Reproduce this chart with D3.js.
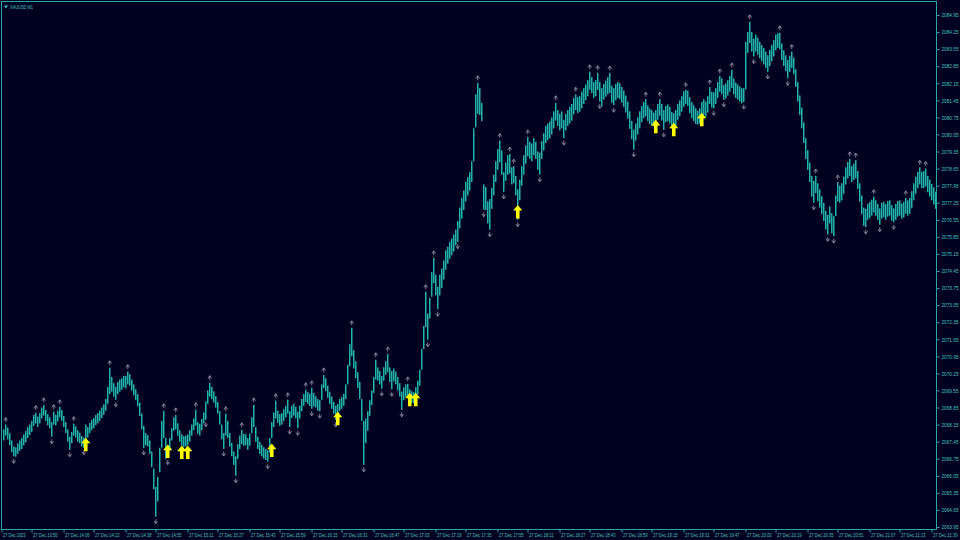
<!DOCTYPE html>
<html><head><meta charset="utf-8">
<script src="https://cdn.jsdelivr.net/npm/d3@7"></script>
<style>html,body{margin:0;padding:0;background:#000020;}svg{display:block}</style>
</head><body>
<svg id="chart" width="960" height="540"></svg>
<script>
const symbolTitle = "XAUUSD,M1";

const highs = [
2067.95,2068.15,2068.02,2067.80,2067.50,2067.25,2067.22,2067.38,2067.50,2067.60,
2067.75,2067.88,2068.05,2068.15,2068.30,2068.55,2068.64,2068.48,2068.62,2068.85,
2068.96,2068.75,2068.58,2068.45,2068.25,2068.68,2068.55,2068.72,2068.88,2068.75,
2068.50,2068.25,2067.95,2067.65,2067.85,2068.19,2068.08,2067.92,2067.82,2067.68,
2067.62,2068.15,2068.05,2068.22,2068.35,2068.42,2068.55,2068.62,2068.72,2068.85,
2068.98,2069.20,2069.70,2070.48,2070.10,2069.85,2069.70,2069.90,2070.00,2070.05,
2070.15,2070.15,
2070.32,2070.22,2070.00,2069.80,2069.60,2069.40,2069.05,2068.60,2068.10,2067.80,
2067.72,2067.50,2067.05,2066.35,2065.60,2066.00,2067.20,2068.30,2068.72,2067.60,
2067.30,2067.60,2068.00,2068.45,2068.55,2068.20,2067.92,2067.75,2067.68,2067.70,
2067.75,2067.92,2068.15,2068.40,2068.76,2068.25,2068.18,2068.38,2068.65,2069.10,
2069.55,2069.87,2069.70,2069.52,2069.32,2069.08,2068.70,2068.15,2067.80,2068.60,
2068.30,2067.80,2067.40,2067.05,2066.85,2067.35,2067.70,2067.94,2067.78,2067.75,
2067.60,2067.78,2068.45,2068.96,2068.05,2067.65,2067.45,2067.32,2067.22,2067.15,
2067.10,2067.60,2068.25,2068.65,2069.13,2068.72,2068.58,2068.62,2068.78,2068.92,
2069.17,2068.70,2068.92,2069.00,2068.88,2068.68,2068.92,2069.20,2069.40,2069.58,
2069.48,2069.42,2069.66,2069.45,2069.32,2069.20,2069.15,2069.80,2070.19,2070.05,
2069.75,2069.50,2069.30,2069.08,2068.92,2069.00,2069.20,2069.28,2069.42,2069.80,
2070.60,2071.45,2072.12,2071.20,2070.75,2070.30,2069.90,2069.20,2068.30,2068.40,
2068.70,2069.15,2069.55,2070.10,2070.81,2070.50,2070.35,2070.15,2070.50,2070.75,
2071.05,2070.50,2070.35,2070.45,2070.32,2070.10,2069.85,2069.50,2069.68,2069.80,
2069.82,2069.60,2069.52,2069.48,2069.68,2069.95,2070.40,2071.25,2072.20,2073.60,
2072.70,2073.35,2074.40,2074.99,2074.30,2073.80,2074.30,2074.55,2074.88,2075.30,
2075.45,2075.65,2075.78,2075.95,2076.15,2076.50,2077.05,2077.45,2077.75,2078.10,
2078.30,2078.50,2078.95,2080.30,2081.70,2082.17,2081.95,2081.35,2078.00,2077.90,
2077.30,2077.40,
2077.85,2078.40,2078.95,2079.45,2079.80,2079.40,2078.50,2078.90,2079.20,2079.25,
2078.70,2078.75,2078.35,2077.80,2078.20,2078.75,2079.20,2079.60,2079.95,2079.75,
2079.68,2079.90,2079.75,2079.35,2079.30,2079.78,2080.10,2080.40,2080.50,2080.58,
2080.75,2081.00,2081.35,2081.05,2080.90,2081.00,2080.65,2080.90,2081.05,2081.18,
2081.30,2081.55,2081.70,2081.58,2081.62,2081.80,2081.95,2082.10,2082.28,2082.62,
2082.40,2082.20,2082.28,2082.58,2082.20,2081.95,
2082.12,2082.25,2082.40,2082.57,2082.05,2081.95,2082.12,2082.20,2082.15,2082.00,
2081.85,2081.65,2081.40,2081.00,2080.60,2080.25,2080.50,2080.75,2081.00,2081.22,
2081.38,2081.50,2081.25,2081.12,2081.05,2080.95,2081.05,2081.30,2081.50,2081.30,
2081.05,2081.22,2081.28,2081.18,2080.98,2080.92,2081.05,2081.30,2081.45,2081.62,
2081.82,2081.88,2081.85,2081.58,2081.38,2081.25,2081.12,2081.02,2081.12,2081.38,
2081.50,2081.40,2081.62,2082.00,2081.80,2081.78,2081.95,2082.20,2082.45,2082.35,
2082.08,2082.15,2082.28,2082.45,2082.70,2082.35,2082.18,2082.10,2082.02,2081.95,
2081.95,2083.85,2084.25,2084.67,2084.25,2083.98,2084.15,2084.02,2083.85,2083.72,
2083.60,2083.45,2083.30,2083.52,2083.72,2083.92,2084.15,2084.20,2084.22,2083.78,
2083.50,2083.30,2083.10,2083.28,2083.45,2083.20,2082.72,2082.20,2081.65,2081.15,
2080.55,
2079.90,2079.40,2078.90,2078.35,2078.15,2078.35,2078.05,2077.80,2077.52,2077.25,
2076.92,2076.75,2077.10,2076.82,2076.70,2077.55,2078.10,2077.95,2078.05,2078.32,
2078.70,2078.92,2079.05,2078.75,2078.85,2079.00,2078.55,2078.05,2077.55,2077.05,
2077.00,2077.20,2077.28,2077.38,2077.50,2077.35,2077.20,2077.02,2077.25,2077.28,
2077.20,2077.32,2077.35,2077.15,2077.02,2077.20,2077.32,2077.35,2077.22,2077.28,
2077.45,2077.35,2077.45,2077.72,2078.05,2078.32,2078.52,2078.70,2078.52,2078.55,
2078.65,2078.35,2078.20,2078.02,2077.88,2077.70
];

const lows = [
2067.50,2067.70,2067.55,2067.30,2067.02,2066.85,2066.83,2066.95,2067.08,2067.15,
2067.30,2067.42,2067.60,2067.72,2067.85,2068.10,2068.20,2068.05,2068.20,2068.40,
2068.52,2068.30,2068.12,2068.00,2067.65,2068.15,2068.12,2068.28,2068.45,2068.30,
2068.05,2067.80,2067.45,2067.12,2067.38,2067.70,2067.62,2067.45,2067.38,2067.25,
2067.20,2067.40,2067.62,2067.80,2067.92,2068.00,2068.12,2068.20,2068.30,2068.42,
2068.55,2068.72,2069.00,2069.40,2069.50,2069.30,2069.17,2069.40,2069.50,2069.58,
2069.68,2069.65,
2069.80,2069.75,2069.55,2069.35,2069.15,2068.90,2068.50,2067.95,2067.20,2067.30,
2067.25,2066.95,2066.40,2065.50,2064.37,2065.00,2066.20,2067.20,2067.60,2066.75,
2066.80,2067.10,2067.50,2067.90,2067.95,2067.70,2067.45,2067.30,2067.22,2067.25,
2067.30,2067.45,2067.70,2067.92,2068.10,2067.78,2067.70,2067.92,2068.20,2068.35,
2069.00,2069.30,2069.20,2069.05,2068.85,2068.60,2068.15,2067.55,2067.15,2067.70,
2067.60,2067.25,2066.85,2066.50,2066.05,2066.75,2067.15,2067.35,2067.28,2067.30,
2067.12,2067.28,2067.80,2068.05,2067.45,2067.15,2066.95,2066.85,2066.75,2066.70,
2066.63,2067.00,2067.60,2068.05,2068.40,2068.22,2068.10,2068.15,2068.30,2068.45,
2068.60,2068.05,2068.42,2068.52,2068.40,2068.00,2068.40,2068.70,2068.92,2069.08,
2069.00,2068.92,2068.80,2068.90,2068.85,2068.72,2068.70,2069.15,2069.65,2069.52,
2069.25,2069.00,2068.80,2068.60,2068.35,2068.50,2068.72,2068.80,2068.92,2069.20,
2069.80,2070.55,2070.95,2070.45,2070.05,2069.65,2069.20,2068.30,2066.50,2067.40,
2067.90,2068.50,2068.95,2069.45,2070.00,2069.95,2069.80,2069.62,2069.95,2070.20,
2070.30,2069.90,2069.60,2069.92,2069.80,2069.55,2069.30,2068.76,2069.15,2069.28,
2069.30,2069.10,2069.05,2069.02,2069.15,2069.38,2069.75,2070.40,2071.25,2072.15,
2071.63,2072.50,2073.40,2073.95,2073.45,2072.88,2073.45,2073.75,2074.10,2074.50,
2074.75,2074.95,2075.10,2075.25,2075.50,2075.65,2076.20,2076.60,2076.95,2077.30,
2077.55,2077.75,2078.10,2078.95,2080.35,2080.90,2080.85,2080.60,2076.96,2076.95,
2076.40,2076.14,
2077.00,2077.55,2078.10,2078.60,2078.90,2078.40,2077.70,2078.15,2078.40,2078.45,
2078.00,2078.05,2077.55,2076.55,2077.35,2077.95,2078.40,2078.85,2079.15,2079.05,
2078.95,2079.20,2079.05,2078.60,2078.40,2079.05,2079.40,2079.70,2079.82,2079.90,
2080.05,2080.30,2080.62,2080.40,2080.22,2080.30,2079.90,2080.22,2080.40,2080.50,
2080.62,2080.88,2081.05,2080.92,2080.98,2081.12,2081.30,2081.45,2081.62,2081.88,
2081.75,2081.55,2081.62,2081.88,2081.40,2081.20,
2081.48,2081.60,2081.70,2081.75,2081.35,2081.25,2081.45,2081.55,2081.50,2081.35,
2081.18,2080.95,2080.70,2080.28,2079.85,2079.42,2079.80,2080.05,2080.30,2080.55,
2080.72,2080.80,2080.60,2080.48,2080.40,2080.38,2080.42,2080.65,2080.82,2080.62,
2080.24,2080.55,2080.60,2080.50,2080.30,2080.30,2080.40,2080.65,2080.80,2080.98,
2081.18,2081.30,2081.22,2080.92,2080.72,2080.60,2080.48,2080.45,2080.50,2080.72,
2080.85,2080.78,2080.95,2081.30,2081.15,2081.12,2081.30,2081.55,2081.80,2081.70,
2081.47,2081.52,2081.65,2081.80,2081.95,2081.70,2081.55,2081.48,2081.40,2081.32,
2081.38,2081.90,2083.40,2083.80,2083.45,2083.25,2083.45,2083.32,2083.18,2083.05,
2082.92,2082.78,2082.62,2082.85,2083.05,2083.25,2083.50,2083.60,2083.55,2083.10,
2082.85,2082.65,2082.35,2082.62,2082.78,2082.52,2082.00,2081.40,2080.85,2080.30,
2079.70,
2079.05,2078.60,2078.10,2077.50,2077.25,2077.65,2077.32,2077.05,2076.78,2076.50,
2076.15,2075.95,2076.40,2076.00,2075.88,2076.70,2077.30,2077.25,2077.35,2077.62,
2078.00,2078.25,2078.35,2078.10,2078.18,2078.25,2077.82,2077.30,2076.78,2076.30,
2076.25,2076.55,2076.62,2076.72,2076.85,2076.72,2076.55,2076.35,2076.60,2076.65,
2076.55,2076.68,2076.72,2076.52,2076.45,2076.55,2076.68,2076.72,2076.60,2076.65,
2076.80,2076.72,2076.80,2077.02,2077.35,2077.62,2077.85,2078.00,2077.85,2077.85,
2077.92,2077.68,2077.50,2077.35,2077.18,2077.00
];

const priceTicks = [2084.95,2084.25,2083.55,2082.85,2082.15,2081.45,2080.75,2080.05,2079.35,2078.65,
  2077.95,2077.25,2076.55,2075.85,2075.15,2074.45,2073.75,2073.05,2072.35,2071.65,
  2070.95,2070.25,2069.55,2068.85,2068.15,2067.45,2066.75,2066.05,2065.35,2064.65,2063.95];

const timeLabels = ["27 Dec 2023","27 Dec 13:50","27 Dec 14:06","27 Dec 14:22","27 Dec 14:38","27 Dec 14:55",
  "27 Dec 15:11","27 Dec 15:27","27 Dec 15:43","27 Dec 15:59","27 Dec 16:15","27 Dec 16:31","27 Dec 16:47",
  "27 Dec 17:03","27 Dec 17:19","27 Dec 17:35","27 Dec 17:55","27 Dec 18:11","27 Dec 18:27","27 Dec 18:43",
  "27 Dec 18:59","27 Dec 19:15","27 Dec 19:31","27 Dec 19:47","27 Dec 20:03","27 Dec 20:19","27 Dec 20:35",
  "27 Dec 20:51","27 Dec 21:07","27 Dec 21:23","27 Dec 21:39"];
const timeLabelBars = [0,15,31,46,62,77,93,108,124,139,155,170,186,201,217,232,248,263,279,294,310,325,341,356,372,387,403,418,434,449,465];

const fractalUpBars = [1,16,20,25,28,35,53,62,80,86,96,103,111,119,125,136,142,151,154,160,174,186,192,202,211,215,237,248,253,255,262,276,286,293,297,303,321,328,341,353,358,364,373,388,394,406,417,423,426,435,451,458,461];
const fractalDownBars = [5,24,33,40,56,70,76,82,101,110,116,132,143,147,154,158,166,180,189,194,199,212,217,227,240,243,250,257,268,280,298,305,315,330,355,360,370,375,382,392,405,412,415,431,438,445];

const signalBars = [41,82,89,92,134,167,203,206,257,326,335,349];
const signalPrices = [2067.61,2067.33,2067.29,2067.29,2067.37,2068.68,2069.46,2069.46,2077.16,2080.65,2080.53,2080.94];

// ---------- drawing ----------
const W = 960, H = 540;
const frame = {left: 1.5, top: 1.5, right: 936.5, bottom: 529.5};
const barColor = "#20b2aa";
const axisColor = "#2aa6a6";
const textColor = "#46c0c0";
const tinyFont = "5.5px 'Liberation Sans', Arial, sans-serif";
const timeFont = "4.5px 'Liberation Sans', Arial, sans-serif";

const svg = d3.select("#chart");
svg.append("rect").attr("width", W).attr("height", H).attr("fill", "#000020");

const x = d3.scaleLinear().domain([0, highs.length - 1]).range([3, 935]);
const y = d3.scaleLinear().domain([2063.95, 2084.95]).range([527, 15]);

const bars = d3.range(highs.length).map(i => ({i, h: highs[i], l: lows[i]}));

const plot = svg.append("g");
plot.selectAll("rect.bar").data(bars).join("rect")
  .attr("class", "bar")
  .attr("x", d => x(d.i))
  .attr("width", 1.5)
  .attr("y", d => y(d.h))
  .attr("height", d => Math.max(1, y(d.l) - y(d.h)))
  .attr("fill", barColor);

// fractal markers
const fracColor = "#9c9cae";
plot.selectAll("path.fu").data(fractalUpBars).join("path")
  .attr("class", "fu")
  .attr("transform", i => `translate(${x(i) + 0.75},${y(highs[i]) - 5})`)
  .attr("d", "M-1.8,0.8 L0,-2 L1.8,0.8 M0,-2 L0,2.5")
  .attr("fill", "none").attr("stroke", fracColor).attr("stroke-width", 0.8);
plot.selectAll("path.fd").data(fractalDownBars).join("path")
  .attr("class", "fd")
  .attr("transform", i => `translate(${x(i) + 0.75},${y(lows[i]) + 5})`)
  .attr("d", "M-1.8,-0.8 L0,2 L1.8,-0.8 M0,2 L0,-2.5")
  .attr("fill", "none").attr("stroke", fracColor).attr("stroke-width", 0.8);

// yellow signal arrows
plot.selectAll("path.sig").data(signalBars).join("path")
  .attr("class", "sig")
  .attr("transform", (b, j) => `translate(${x(b) + 0.75},${y(signalPrices[j])})`)
  .attr("d", "M0,0 L4.6,5.6 L1.8,5.6 L1.8,13.5 L-1.8,13.5 L-1.8,5.6 L-4.6,5.6 Z")
  .attr("fill", "#ffff00");

// frame
svg.append("rect")
  .attr("x", frame.left).attr("y", frame.top)
  .attr("width", frame.right - frame.left).attr("height", frame.bottom - frame.top)
  .attr("fill", "none").attr("stroke", axisColor).attr("stroke-width", 1);

// right price axis
const yAxis = d3.axisRight(y).tickValues(priceTicks).tickFormat(d3.format(".2f")).tickSize(3).tickPadding(2);
const ya = svg.append("g").attr("transform", `translate(${frame.right},0)`).call(yAxis);
ya.select(".domain").remove();
ya.selectAll("line").attr("stroke", axisColor);
ya.selectAll("text").attr("fill", textColor).style("font", tinyFont)
  .attr("textLength", 17).attr("lengthAdjust", "spacingAndGlyphs");

// bottom time axis
const xAxis = d3.axisBottom(x).tickValues(timeLabelBars)
  .tickFormat((d, j) => timeLabels[j]).tickSize(3).tickPadding(1);
const xa = svg.append("g").attr("transform", `translate(-1.5,${frame.bottom})`).call(xAxis);
xa.select(".domain").remove();
xa.selectAll("line").attr("stroke", axisColor);
xa.selectAll("text").attr("fill", textColor).attr("text-anchor", "start").attr("dx", 1)
  .style("font", timeFont)
  .attr("textLength", function() { return this.textContent.length * 2.05; })
  .attr("lengthAdjust", "spacingAndGlyphs");

// title
svg.append("path").attr("d", "M4,5.5 L8,5.5 L6,8.5 Z").attr("fill", textColor);
svg.append("text").attr("x", 10).attr("y", 9).text(symbolTitle)
  .attr("fill", textColor).style("font", tinyFont)
  .attr("textLength", 23).attr("lengthAdjust", "spacingAndGlyphs");
</script>
</body></html>
